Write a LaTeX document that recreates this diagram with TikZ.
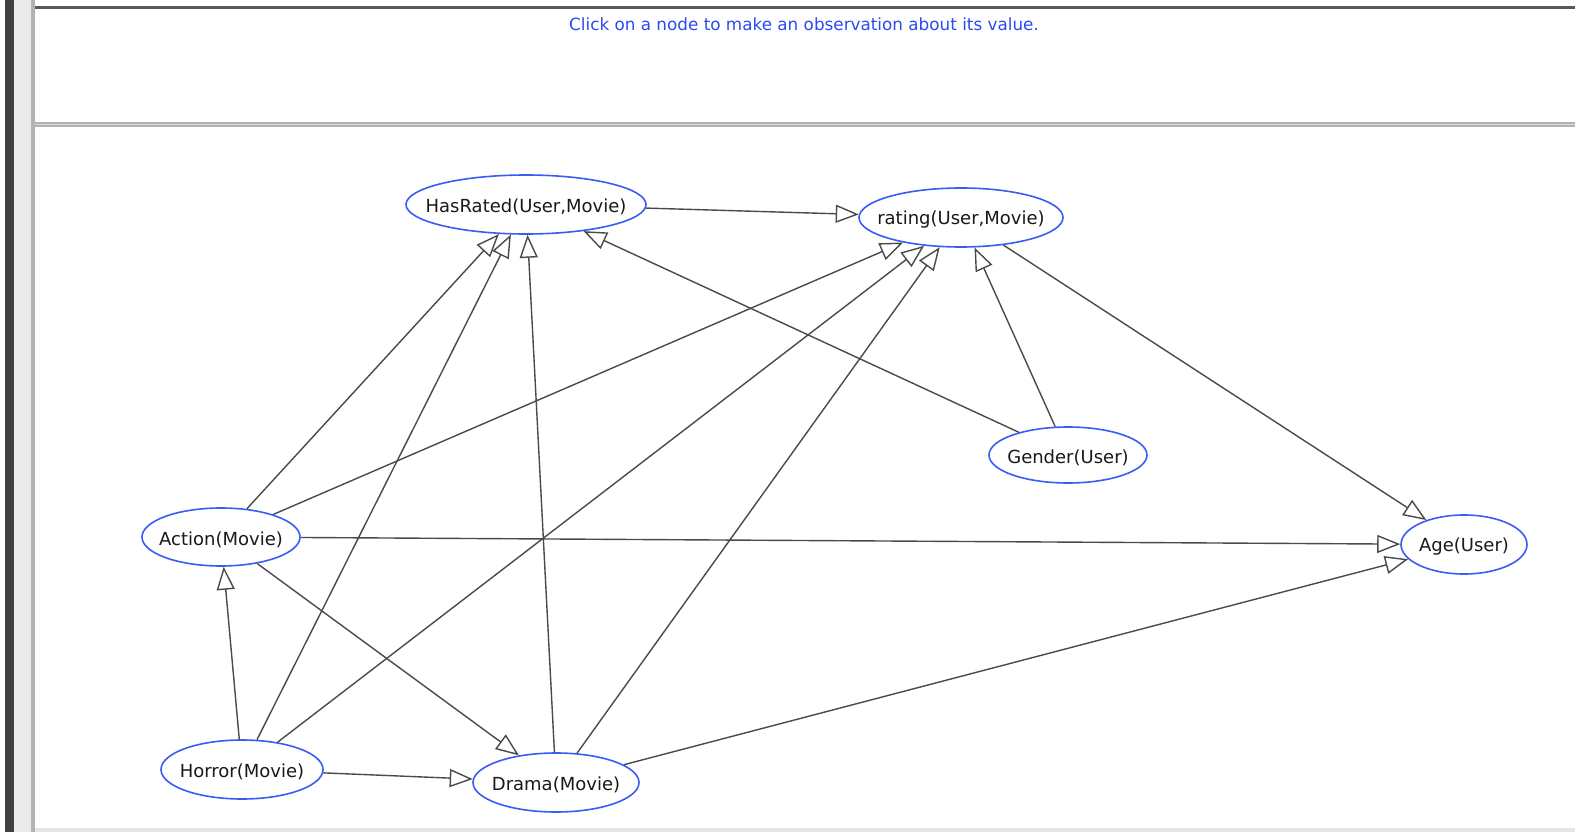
\documentclass[tikz,border=0pt]{standalone}
\usepackage{fontspec}
\setmainfont{DejaVu Sans}
\usetikzlibrary{shapes.geometric,arrows.meta}
\definecolor{nodeblue}{HTML}{3A5CF5}
\definecolor{edgegray}{HTML}{4A4A4A}
\definecolor{msgblue}{HTML}{2A4BF2}
\tikzset{
  bnode/.style={ellipse, draw=nodeblue, line width=1.6pt, fill=white, inner sep=0pt},
  btext/.style={font=\fontsize{18}{18}\selectfont, text=black!90, yshift=-2.5pt},
  edge/.style={draw=edgegray, line width=1.4pt,
    -{Triangle[length=23pt,width=18pt,fill=white,line width=1.4pt]}},
}
\begin{document}
\begin{tikzpicture}[x=1pt,y=-1pt]
\useasboundingbox (0,0) rectangle (1575,832);
% window frame
\fill[white] (0,0) rectangle (1575,832);
\fill[black!75] (5,0) rectangle (14,832);
\fill[black!8] (14,0) rectangle (31,832);
\fill[black!30] (31,0) rectangle (35,832);
\fill[black!65] (35,6) rectangle (1575,9);
\fill[black!30] (35,122) rectangle (1575,127);
\fill[black!15] (35,124) rectangle (1575,125);
\fill[black!10] (35,828) rectangle (1575,832);
\node[font=\fontsize{16.8}{16.8}\selectfont, text=msgblue] (msg) at (804,24) {Click on a node to make an observation about its value.};
% nodes
\node[bnode, minimum width=240pt, minimum height=59pt, label={[btext]center:HasRated(User,Movie)}] (hr) at (526,204.5) {};
\node[bnode, minimum width=204pt, minimum height=59pt, label={[btext]center:rating(User,Movie)}] (rt) at (961,217.5) {};
\node[bnode, minimum width=158pt, minimum height=56pt, label={[btext]center:Gender(User)}] (gd) at (1068,455) {};
\node[bnode, minimum width=158pt, minimum height=58pt, label={[btext]center:Action(Movie)}] (ac) at (221,537) {};
\node[bnode, minimum width=126pt, minimum height=59pt, label={[btext]center:Age(User)}] (ag) at (1464,544.5) {};
\node[bnode, minimum width=162pt, minimum height=59pt, label={[btext]center:Horror(Movie)}] (ho) at (242,769.5) {};
\node[bnode, minimum width=166pt, minimum height=59pt, label={[btext]center:Drama(Movie)}] (dr) at (556,782.5) {};
% edges
\draw[edge] (hr) -- (rt);
\draw[edge] (ac) -- (hr);
\draw[edge] (ho) -- (hr);
\draw[edge] (dr) -- (hr);
\draw[edge] (gd) -- (hr);
\draw[edge] (ac) -- (rt);
\draw[edge] (ho) -- (rt);
\draw[edge] (dr) -- (rt);
\draw[edge] (gd) -- (rt);
\draw[edge] (rt) -- (ag);
\draw[edge] (ac) -- (ag);
\draw[edge] (dr) -- (ag);
\draw[edge] (ho) -- (ac);
\draw[edge] (ho) -- (dr);
\draw[edge] (ac) -- (dr);
\end{tikzpicture}
\end{document}
